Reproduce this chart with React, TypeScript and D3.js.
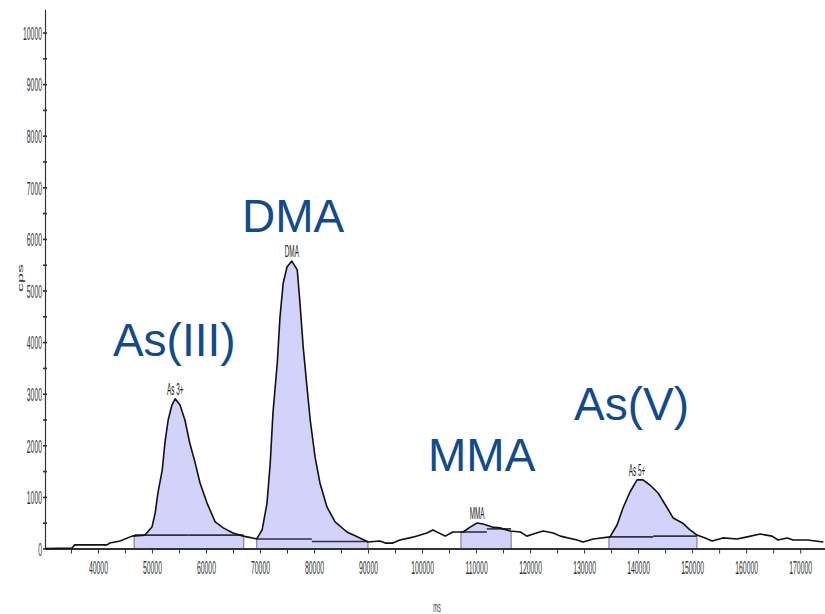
import React from "react";
import * as d3 from "d3";

// chromatogram trace (ms, cps)
const traceTime = [
  30200, 35200, 35700, 41700, 42200, 44100, 46300, 48700, 50000, 50600, 51100, 51900, 52400, 53000,
  53700, 54300, 55200, 56100, 57000, 58000, 58900, 60200, 61700, 63200, 65000, 66900, 67600, 69400,
  70400, 71300, 71900, 72400, 73200, 73700, 74300, 75000, 75900, 76900, 77400, 78000, 78700, 79300,
  80200, 81100, 82400, 83900, 86100, 88500, 90000, 92200, 93200, 94600, 95900, 98300, 100900, 102000,
  104300, 105700, 107600, 108900, 110200, 111300, 113000, 114400, 116300, 118200, 119400, 120600,
  122400, 124300, 125600, 128700, 129800, 131700, 134800, 136100, 137200, 138500, 139800, 140900,
  142200, 143700, 145400, 146500, 148200, 149600, 150900, 152400, 153700, 155700, 158300, 160200,
  162600, 164800, 165900, 167600, 168700, 171300, 174300,
];
const traceCps = [
  0, 10, 70, 70, 107, 145, 240, 260, 415, 690, 1075, 1520, 2045, 2490,
  2780, 2900, 2780, 2490, 2045, 1660, 1270, 880, 515, 400, 300, 240, 225, 185,
  360, 880, 1660, 2625, 3595, 4485, 5145, 5455, 5570, 5400, 4760, 3905, 3130, 2490,
  1770, 1270, 805, 515, 320, 205, 125, 145, 105, 105, 165, 220, 300, 360,
  240, 320, 320, 415, 495, 475, 415, 400, 340, 320, 240, 280,
  340, 300, 240, 165, 125, 185, 225, 455, 785, 1095, 1330, 1330,
  1230, 1075, 785, 590, 495, 360, 260, 205, 145, 205, 185, 225,
  280, 240, 165, 205, 165, 165, 125,
];

// integrated peaks
const peakNames = ["As 3+", "DMA", "MMA", "As 5+"];
const peakStart = [46700, 69400, 107200, 134600];
const peakEnd = [67000, 90000, 116500, 150900];
const peakSplit = [56800, 79600, 112000, 142800];
const baseLeft = [260, 185, 320, 225];
const baseRight = [260, 135, 380, 240];

// big annotations (text, ms, cps at text baseline)
const noteText = ["As(III)", "DMA", "MMA", "As(V)"];
const noteTime = [42780, 66670, 101110, 128150];
const noteCps = [3730, 6130, 1500, 2490];

const xMinorTicks = d3.range(35000, 170001, 5000);
const yTicks = d3.range(0, 10001, 500);

const W = 825;
const H = 614;
const FONT = "'Liberation Sans', Arial, sans-serif";

const Chromatogram = () => {
  const ref = React.useRef<SVGSVGElement>(null);

  React.useEffect(() => {
    const svg = d3.select(ref.current);
    svg.selectAll("*").remove();

    const x = d3.scaleLinear().domain([30200, 174600]).range([45, 825]);
    const y = d3.scaleLinear().domain([0, 10450]).range([548.5, 9.3]);

    const pts: [number, number][] = traceTime.map((t, i) => [t, traceCps[i]]);
    const bis = d3.bisector((d: [number, number]) => d[0]).left;
    const valueAt = (t: number) => {
      const i = bis(pts, t);
      const a = pts[i - 1], b = pts[i];
      return a[1] + ((t - a[0]) / (b[0] - a[0])) * (b[1] - a[1]);
    };

    // peak fills
    const area = d3.area<[number, number]>()
      .x(d => x(d[0]))
      .y0(y(0))
      .y1(d => y(d[1]));
    peakNames.forEach((name, i) => {
      const t0 = peakStart[i], t1 = peakEnd[i];
      const inside = pts.filter(p => p[0] > t0 && p[0] < t1);
      const seg: [number, number][] = [[t0, valueAt(t0)], ...inside, [t1, valueAt(t1)]];
      svg.append("path").attr("d", area(seg)).attr("fill", "#d2d2fa");
      [t0, t1].forEach(t => {
        svg.append("line")
          .attr("x1", x(t)).attr("x2", x(t))
          .attr("y1", y(0)).attr("y2", y(valueAt(t)))
          .attr("stroke", "#555").attr("stroke-width", 0.8);
      });
      const bl = svg.append("g").attr("stroke", "#333").attr("stroke-width", 1.6);
      bl.append("line").attr("x1", x(t0)).attr("x2", x(peakSplit[i]))
        .attr("y1", y(baseLeft[i])).attr("y2", y(baseLeft[i]));
      bl.append("line").attr("x1", x(peakSplit[i])).attr("x2", x(t1))
        .attr("y1", y(baseRight[i])).attr("y2", y(baseRight[i]));

      const apex = inside.reduce((m, p) => (p[1] > m[1] ? p : m));
      svg.append("text")
        .attr("transform", `translate(${x(apex[0])},${y(apex[1]) - 4}) scale(0.4,1)`)
        .attr("text-anchor", "middle")
        .style("font-family", FONT)
        .style("font-size", "16px")
        .style("fill", "#222")
        .text(name);
    });

    // axes
    const xAxis = svg.append("g")
      .attr("transform", `translate(0,${y(0)})`)
      .call(d3.axisBottom(x).tickValues(xMinorTicks).tickSize(5).tickSizeOuter(0)
        .tickFormat(d => (+d % 10000 === 0 ? String(d) : "")));
    xAxis.select(".domain").attr("stroke", "#333").attr("stroke-width", 1.8);
    xAxis.selectAll(".tick line").attr("stroke", "#333");
    xAxis.selectAll(".tick text")
      .attr("y", 0).attr("dy", 0)
      .attr("transform", "translate(0,25) scale(0.36,1)")
      .style("font-family", FONT)
      .style("font-size", "19px")
      .style("fill", "#333");

    const yAxis = svg.append("g")
      .attr("transform", `translate(45,0)`)
      .call(d3.axisLeft(y).tickValues(yTicks).tickSize(2).tickSizeOuter(0)
        .tickFormat(d => (+d % 1000 === 0 ? String(d) : "")));
    yAxis.select(".domain").attr("stroke", "#333").attr("stroke-width", 1.2);
    yAxis.selectAll(".tick line").attr("stroke", "#333").attr("x2", -2).attr("x1", 2).attr("stroke-width", 1.6);
    yAxis.selectAll(".tick text")
      .attr("x", -3 / 0.36).attr("dy", "0.36em")
      .attr("transform", "scale(0.36,1)")
      .style("font-family", FONT)
      .style("font-size", "19px")
      .style("fill", "#333");

    // trace
    const line = d3.line<[number, number]>().x(d => x(d[0])).y(d => y(d[1]));
    svg.append("path").attr("d", line(pts))
      .attr("fill", "none").attr("stroke", "#111").attr("stroke-width", 1.6)
      .attr("stroke-linejoin", "round");

    // axis titles
    svg.append("text")
      .attr("transform", `translate(23,278) rotate(-90) scale(1,0.36)`)
      .attr("text-anchor", "middle")
      .style("font-family", FONT)
      .style("font-size", "18px").style("fill", "#333")
      .text("cps");
    svg.append("text")
      .attr("transform", `translate(437,612) scale(0.4,1)`)
      .attr("text-anchor", "middle")
      .style("font-family", FONT)
      .style("font-size", "14px").style("fill", "#333")
      .text("ms");

    // big labels
    svg.selectAll(".note")
      .data(noteText)
      .enter()
      .append("text")
      .attr("x", (d, i) => x(noteTime[i]))
      .attr("y", (d, i) => y(noteCps[i]))
      .style("font-family", FONT)
      .style("font-size", "46px")
      .style("fill", "#134b8a")
      .text(d => d);
  }, []);

  return <svg ref={ref} width={W} height={H} style={{ position: "absolute", left: 0, top: 0, background: "#fff" }} />;
};

export default function App() {
  return <Chromatogram />;
}
